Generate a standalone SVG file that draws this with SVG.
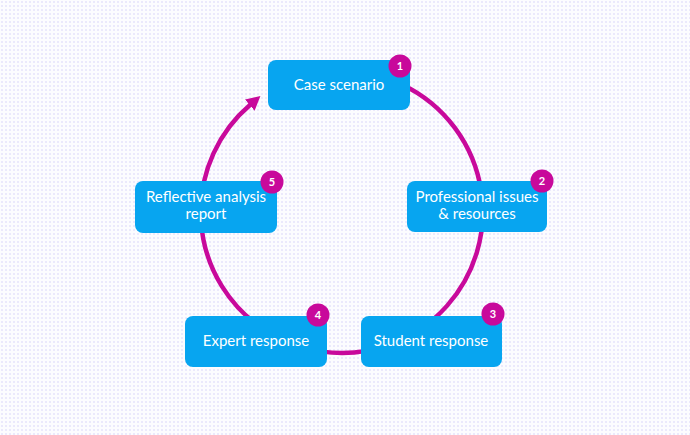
<svg xmlns="http://www.w3.org/2000/svg" width="690" height="435" viewBox="0 0 690 435">
<defs>
<pattern id="dots" width="4" height="4" patternUnits="userSpaceOnUse">
<rect width="4" height="4" fill="#fcfcff"/>
<rect x="1" y="1" width="2" height="2" fill="#ebe9fc"/>
</pattern>
<marker id="ah" viewBox="0 0 14 15" refX="1" refY="7.5" markerWidth="14" markerHeight="15" markerUnits="userSpaceOnUse" orient="auto">
<path d="M0,0 L14,7.5 L0,15 Z" fill="#c8099b"/>
</marker>
<style>
.box{fill:#07a5f0}
.lbl{font-family:Lato,"Open Sans",sans-serif;font-size:15px;fill:#ffffff;text-anchor:middle}
.badge{fill:#c8099b}
.num{font-family:Lato,"Open Sans",sans-serif;font-size:11px;font-weight:bold;fill:#ffffff;text-anchor:middle}
.ring{fill:none;stroke:#c8099b;stroke-width:4.5}
</style>
</defs>
<rect width="690" height="435" fill="url(#dots)"/>
<g id="connectors">
<path class="ring" d="M342 71 A141 141 0 1 1 250.5 104.5" marker-end="url(#ah)"/>
</g>
<g id="node1">
<rect class="box" x="268" y="60" width="142" height="50" rx="8"/>
<text class="lbl" x="339" y="90">Case scenario</text>
<circle class="badge" cx="400" cy="66" r="11.5"/>
<text class="num" x="400" y="70">1</text>
</g>
<g id="node2">
<rect class="box" x="407" y="181" width="140" height="51" rx="8"/>
<text class="lbl" x="477" y="202">Professional issues</text>
<text class="lbl" x="477" y="219">&amp; resources</text>
<circle class="badge" cx="542" cy="181" r="11.5"/>
<text class="num" x="542" y="185">2</text>
</g>
<g id="node3">
<rect class="box" x="361" y="316" width="141" height="51" rx="8"/>
<text class="lbl" x="431" y="346">Student response</text>
<circle class="badge" cx="493" cy="314" r="11.5"/>
<text class="num" x="493" y="318">3</text>
</g>
<g id="node4">
<rect class="box" x="185" y="316" width="142" height="51" rx="8"/>
<text class="lbl" x="256" y="346">Expert response</text>
<circle class="badge" cx="318" cy="315" r="11.5"/>
<text class="num" x="318" y="319">4</text>
</g>
<g id="node5">
<rect class="box" x="135" y="181" width="142" height="52" rx="8"/>
<text class="lbl" x="206" y="202">Reflective analysis</text>
<text class="lbl" x="206" y="219">report</text>
<circle class="badge" cx="272" cy="182" r="11.5"/>
<text class="num" x="272" y="186">5</text>
</g>
</svg>
